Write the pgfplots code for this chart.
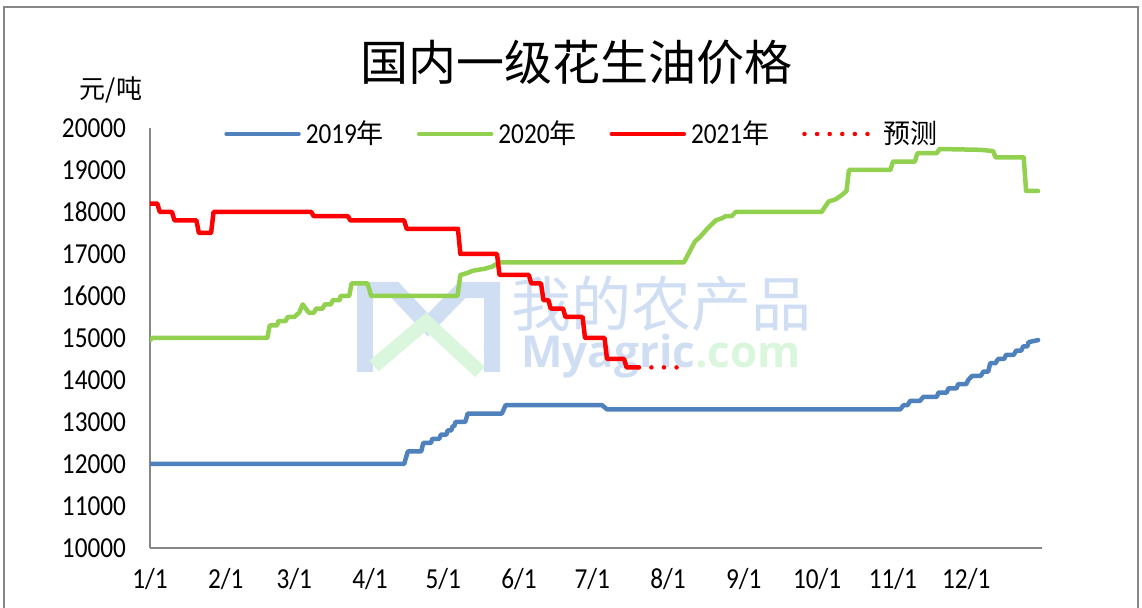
\documentclass[border=0pt]{standalone}
\usepackage{fontspec}
\setmainfont{Carlito}[FakeStretch=0.87]
\newfontfamily\cjk{Noto Sans CJK SC}
\newfontfamily\wmfont{Open Sans}
\usepackage{pgfplots}
\pgfplotsset{compat=1.18}
\definecolor{c19}{RGB}{79,129,189}
\definecolor{c20}{RGB}{146,208,80}
\definecolor{c21}{RGB}{255,0,0}
\definecolor{framec}{RGB}{134,134,134}
\definecolor{wmblue}{RGB}{208,222,244}
\definecolor{wmgreen}{RGB}{218,246,220}
\begin{document}
\begin{tikzpicture}
\useasboundingbox (0pt,0pt) rectangle (571pt,304pt);
\draw[framec, line width=1pt] (2pt,0pt) -- (2pt,300.5pt) -- (569pt,300.5pt) -- (569pt,0pt);
\node at (288pt,273pt) {\fontsize{24}{28}\selectfont\cjk 国内一级花生油价格};
\node at (55.5pt,259pt) {\fontsize{13}{15}\selectfont\cjk 元/吨};
% watermark
\draw[wmblue, line width=8pt, line join=miter] (182.5pt,118pt) -- (182.5pt,159pt) -- (197.5pt,159pt) -- (214pt,141.5pt) -- (231pt,159pt) -- (246pt,159pt) -- (246pt,118pt);
\draw[wmgreen, line width=7pt] (187pt,121pt) -- (213pt,143pt) -- (240pt,118pt);
\node[wmblue] at (330.5pt,152pt) {\fontsize{30}{32}\selectfont\cjk 我的农产品};
\node at (330.5pt,126pt) {\fontsize{22}{24}\selectfont\wmfont\bfseries\textcolor{wmblue}{Myagric}\textcolor{wmgreen}{.com}};
\begin{axis}[
  at={(75pt,30pt)}, anchor=south west,
  scale only axis, width=446pt, height=210pt,
  xmin=0, xmax=365, ymin=10000, ymax=20000,
  axis x line*=bottom, axis y line*=left,
  axis line style={draw=framec, line width=1pt},
  xtick={0,31,59,90,120,151,181,212,243,273,304,334},
  xticklabels={1/1,2/1,3/1,4/1,5/1,6/1,7/1,8/1,9/1,10/1,11/1,12/1},
  ytick={10000,11000,12000,13000,14000,15000,16000,17000,18000,19000,20000},
  major tick length=0pt, tick style={draw=none},
  /pgf/number format/assume math mode=true,
  /pgf/number format/1000 sep={},
  scaled y ticks=false,
  ticklabel style={font=\fontsize{14.5}{16}\selectfont},
  yticklabel style={xshift=-8.5pt},
  xticklabel style={yshift=-6.5pt},
  legend columns=4,
  legend style={at={(0.486,0.9857)}, anchor=center, draw=none, fill=none,
    font=\fontsize{14.5}{17}\selectfont,
    nodes={inner xsep=2.5pt},
    /tikz/every even column/.append style={column sep=14pt}},
  legend image code/.code={\draw[#1, line cap=round] (0pt,0pt) -- (36pt,0pt);},
]
\addplot[c19, line width=2.25pt, line join=round, line cap=round] coordinates {
(0,12000) (104,12000) (105.5,12300) (111,12300) (111.8,12500) (115,12500) (115.5,12600) (118.4,12600) (119,12700) (121.3,12700) (121.8,12800) (123.3,12800) (123.8,12900) (124.5,12900) (125,13000) (129,13000) (130,13200) (144,13200) (145.5,13400) (185,13400) (187,13300) (307,13300) (308.3,13400) (310,13400) (311,13500) (315,13500) (316.5,13600) (322,13600) (322.6,13700) (326,13700) (326.7,13800) (330,13800) (330.7,13900) (334,13900) (334.8,14000) (336.5,14100) (340,14100) (341,14200) (343,14200) (343.8,14400) (346,14400) (347,14500) (349.5,14500) (350.3,14600) (353.5,14600) (354.4,14700) (356.5,14700) (357.3,14800) (359,14800) (359.5,14900) (361,14920) (363.4,14950)
};
\addlegendentry{2019{\fontsize{13.5}{17}\selectfont\cjk 年}}
\addplot[c20, line width=2.25pt, line join=round, line cap=round] coordinates {
(0,14950) (1,15000) (48,15000) (49,15300) (52,15300) (52.5,15400) (55.5,15400) (56.3,15500) (59,15500) (61,15600) (62.5,15800) (65,15600) (67,15600) (68,15700) (70.6,15700) (71.5,15800) (74,15800) (74.8,15900) (77.6,15900) (78,16000) (81.5,16000) (82.5,16300) (89,16300) (90.5,16000) (125.8,16000) (127,16500) (130,16550) (132,16600) (137,16650) (140,16700) (143,16800) (218.5,16800) (223,17300) (225,17400) (228,17600) (231.5,17800) (234,17850) (235.6,17900) (238,17900) (239.7,18000) (274.8,18000) (277.7,18250) (280.5,18300) (283,18400) (285,18500) (286,19000) (303,19000) (304,19200) (313,19200) (314,19400) (322,19400) (323,19500) (340,19480) (345,19450) (346,19300) (357.5,19300) (358.5,18500) (363.4,18500)
};
\addlegendentry{2020{\fontsize{13.5}{17}\selectfont\cjk 年}}
\addplot[c21, line width=2.25pt, line join=round, line cap=round] coordinates {
(0,18200) (3,18200) (4,18000) (9,18000) (10,17800) (19,17800) (20,17500) (25,17500) (26,18000) (66,18000) (67,17900) (81,17900) (82,17800) (104,17800) (105,17600) (126,17600) (127,17000) (142,17000) (143,16500) (155,16500) (156,16300) (160,16300) (161,15900) (163,15900) (164,15700) (169,15700) (170,15500) (177,15500) (178,15000) (186,15000) (187,14500) (194,14500) (195,14300) (200,14300)
};
\addlegendentry{2021{\fontsize{13.5}{17}\selectfont\cjk 年}}
\addplot[c21, line width=2.25pt, line cap=round, dash pattern=on 0pt off 6.3pt] coordinates {
(200,14300) (216,14300)
};
\addlegendentry{{\fontsize{13.5}{17}\selectfont\cjk 预测}}
\end{axis}
\end{tikzpicture}
\end{document}
